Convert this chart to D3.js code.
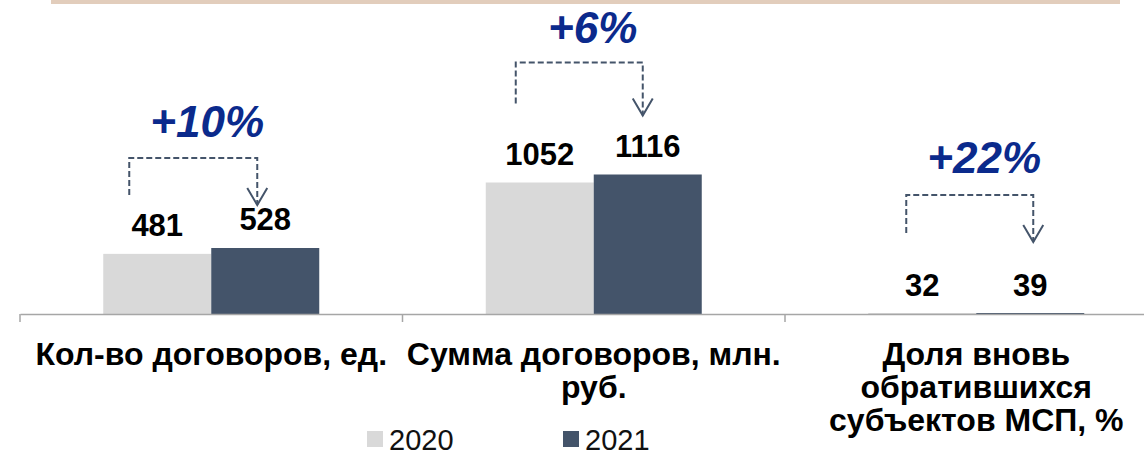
<!DOCTYPE html>
<html>
<head>
<meta charset="utf-8">
<script src="https://cdn.jsdelivr.net/npm/d3@7"></script>
<style>
  body { margin: 0; background: #fff; }
  svg { display: block; font-family: "Liberation Sans", Arial, sans-serif; }
</style>
</head>
<body>
<div id="chart"></div>
<script>
// данные
const categories = ["Кол-во договоров, ед.", "Сумма договоров, млн. руб.", "Доля вновь обратившихся субъектов МСП, %"];
const years = ["2020", "2021"];
const values2020 = [481, 1052, 0.32];
const values2021 = [528, 1116, 0.39];
const labelFactor = [1, 1, 100]; // доля хранится как дробь, подпись в процентах
const colors = ["#D9D9D9", "#44546A"];

// размещение стрелок (сдвиги от центра категории и от верха столбика 2021)
const arrowLayout = [
  {dxL: -82, dxR: 46, top: -90, bottom: -53, tip: -43, dxT: -4, text: -111},
  {dxL: -78, dxR: 49, top: -112, bottom: -71, tip: -59, dxT: -1, text: -132},
  {dxL: -70, dxR: 57, top: -119, bottom: -81, tip: -72, dxT: 8, text: -141}
];

const width = 1144, height = 455;
const baseY = 314;

const svg = d3.select("#chart").append("svg")
    .attr("width", width)
    .attr("height", height);

// полоска сверху
svg.append("rect")
    .attr("x", 51).attr("y", 0)
    .attr("width", 1069).attr("height", 4)
    .attr("fill", "#E2CDBC");

const x0 = d3.scaleBand().domain(categories).range([20, 20 + 382.5 * 3]).padding(0);
const bw = x0.bandwidth();
const x1 = d3.scaleBand().domain(years).range([bw / 2 - 108, bw / 2 + 108]).padding(0);
const y = d3.scaleLinear().domain([0, 1200]).range([baseY, baseY - 150]);

const rows = categories.map((c, i) => ({cat: c, i, vals: [values2020[i], values2021[i]]}));

const groups = svg.selectAll(".grp")
    .data(rows)
    .enter().append("g")
    .attr("class", "grp")
    .attr("transform", d => `translate(${x0(d.cat)},0)`);

groups.selectAll("rect")
    .data(d => d.vals.map((v, j) => ({v, j, i: d.i})))
    .enter().append("rect")
    .attr("x", d => x1(years[d.j]))
    .attr("width", x1.bandwidth())
    .attr("y", d => Math.min(y(d.v), baseY - 1))
    .attr("height", d => Math.max(baseY - y(d.v), 1))
    .attr("fill", d => colors[d.j]);

groups.selectAll(".val")
    .data(d => d.vals.map((v, j) => ({v, j, i: d.i})))
    .enter().append("text")
    .attr("class", "val")
    .attr("x", d => x1(years[d.j]) + x1.bandwidth() / 2)
    .attr("y", d => y(d.v) - 18)
    .attr("text-anchor", "middle")
    .style("font-size", "31px")
    .style("font-weight", "bold")
    .attr("fill", "#000")
    .text(d => Math.round(d.v * labelFactor[d.i]));

// ось
const axis = svg.append("g")
    .attr("transform", `translate(0,${baseY})`)
    .call(d3.axisBottom(x0).tickSize(0).tickFormat(""));
axis.select(".domain").attr("stroke", "#A6A6A6").attr("stroke-width", 1.5);
axis.selectAll(".tick").remove();
axis.selectAll(".sep")
    .data(categories.concat(["end"]))
    .enter().append("line")
    .attr("class", "sep")
    .attr("x1", (d, i) => 20 + i * bw).attr("x2", (d, i) => 20 + i * bw)
    .attr("y1", 0).attr("y2", 8)
    .attr("stroke", "#A6A6A6").attr("stroke-width", 1.5);

// подписи категорий с переносом
function wrap(textSel, maxW) {
  textSel.each(function() {
    const t = d3.select(this);
    const words = t.text().split(/\s+/);
    const cx = t.attr("x");
    t.text(null);
    let line = [];
    let tspan = t.append("tspan").attr("x", cx).attr("dy", 0);
    words.forEach(w => {
      line.push(w);
      tspan.text(line.join(" "));
      if (tspan.node().getComputedTextLength() > maxW && line.length > 1) {
        line.pop();
        tspan.text(line.join(" "));
        line = [w];
        tspan = t.append("tspan").attr("x", cx).attr("dy", 33).text(w);
      }
    });
  });
}

svg.selectAll(".cat")
    .data(categories)
    .enter().append("text")
    .attr("class", "cat")
    .attr("x", d => x0(d) + bw / 2)
    .attr("y", 365)
    .attr("text-anchor", "middle")
    .style("font-size", "32px")
    .style("font-weight", "bold")
    .attr("fill", "#000")
    .text(d => d)
    .call(wrap, 400);

// стрелки и проценты роста
const fmt = d3.format("+.0%");
rows.forEach((d, i) => {
  const a = arrowLayout[i];
  const cx = x0(d.cat) + bw / 2;
  const yRef = y(d.vals[1]);
  const g = svg.append("g");
  g.append("path")
      .attr("d", `M${cx + a.dxL},${yRef + a.bottom}V${yRef + a.top}H${cx + a.dxR}V${yRef + a.tip}`)
      .attr("fill", "none")
      .attr("stroke", "#44546A")
      .attr("stroke-width", 2)
      .attr("stroke-dasharray", "6,3");
  g.append("path")
      .attr("d", `M${cx + a.dxR - 10},${yRef + a.tip - 17}L${cx + a.dxR},${yRef + a.tip}L${cx + a.dxR + 10},${yRef + a.tip - 17}`)
      .attr("fill", "none")
      .attr("stroke", "#44546A")
      .attr("stroke-width", 2);
  g.append("text")
      .attr("x", cx + a.dxT)
      .attr("y", yRef + a.text)
      .attr("text-anchor", "middle")
      .style("font-size", "44px")
      .style("font-weight", "bold")
      .style("font-style", "italic")
      .attr("fill", "#0B2A8C")
      .text(fmt((d.vals[1] - d.vals[0]) / d.vals[0]));
});

// легенда
const legend = svg.selectAll(".leg")
    .data(years)
    .enter().append("g")
    .attr("class", "leg")
    .attr("transform", (d, i) => `translate(${367 + i * 196},431)`);
legend.append("rect")
    .attr("width", 16).attr("height", 16)
    .attr("fill", (d, i) => colors[i]);
legend.append("text")
    .attr("x", 22).attr("y", 19)
    .style("font-size", "29px")
    .attr("fill", "#111")
    .text(d => d);
</script>
</body>
</html>
